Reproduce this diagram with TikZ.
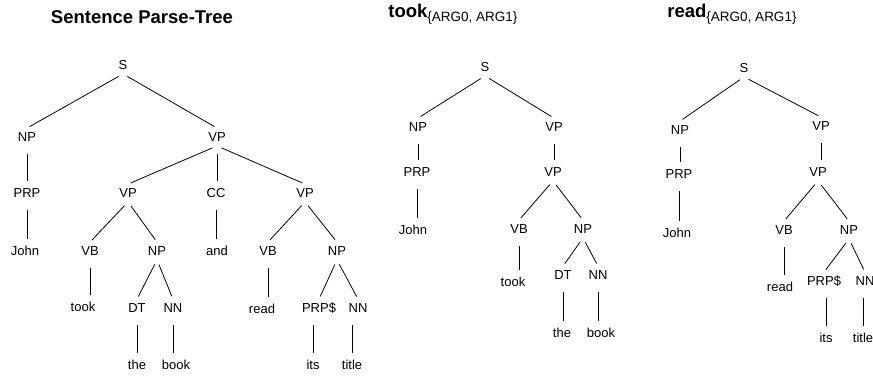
\documentclass[tikz,border=0pt]{standalone}
\usepackage{fontspec}
\setmainfont{Liberation Sans}
\begin{document}
\begin{tikzpicture}[x=1pt,y=-1pt,line width=0.8pt]
\tikzstyle{every node}+=[inner xsep=2pt,inner ysep=4pt,text height=9pt,text depth=0pt,font=\fontsize{13}{15}\selectfont]
\tikzstyle{branch}=[shorten <=5pt,shorten >=3pt]
\tikzstyle{stem}=[shorten <=8pt,shorten >=3pt]
\tikzstyle{title}=[inner sep=0pt,font=\fontsize{18.5}{20}\selectfont\bfseries]
\useasboundingbox (0,0) rectangle (873,376);
\node [title,anchor=base] (tsent) at (142,23) {Sentence Parse-Tree};
\node [title,anchor=base west] (ttook) at (388,17) {took\raisebox{-4pt}{\fontsize{13.5}{15}\selectfont\mdseries\{ARG0, ARG1\}}};
\node [title,anchor=base west] (tread) at (667,17) {read\raisebox{-4pt}{\fontsize{13.5}{15}\selectfont\mdseries\{ARG0, ARG1\}}};
\node (aS) at (123,65) {S};
\node (aNP) at (27,137) {NP};
\node (aVP) at (217,137) {VP};
\node (aPRP) at (27,193) {PRP};
\node (aVP1) at (128,193) {VP};
\node (aCC) at (216,193) {CC};
\node (aVP2) at (305,193) {VP};
\node (aJohn) at (25,251) {John};
\node (aVB1) at (90,251) {VB};
\node (aNP1) at (157,251) {NP};
\node (aand) at (217,251) {and};
\node (aVB2) at (268,251) {VB};
\node (aNP2) at (337,251) {NP};
\node (atook) at (83,307) {took};
\node (aDT) at (137,308) {DT};
\node (aNN1) at (173,308) {NN};
\node (aread) at (262,309) {read};
\node (aPRPs) at (319,308) {PRP\$};
\node (aNN2) at (358,308) {NN};
\node (athe) at (137,365) {the};
\node (abook) at (176,365) {book};
\node (aits) at (313,365) {its};
\node (atitle) at (352,365) {title};
\draw [branch] (aS.south) -- (aNP.north);
\draw [branch] (aS.south) -- (aVP.north);
\draw [stem] (aNP) -- (aNP |- aPRP.north);
\draw [stem] (aPRP) -- (aPRP |- aJohn.north);
\draw [branch] (aVP.south) -- (aVP1.north);
\draw [stem] (aVP) -- (aVP |- aCC.north);
\draw [branch] (aVP.south) -- (aVP2.north);
\draw [stem] (aCC) -- (aCC |- aand.north);
\draw [branch] (aVP1.south) -- (aVB1.north);
\draw [branch] (aVP1.south) -- (aNP1.north);
\draw [stem] (aVB1) -- (aVB1 |- atook.north);
\draw [branch] (aNP1.south) -- (aDT.north);
\draw [branch] (aNP1.south) -- (aNN1.north);
\draw [stem] (aDT) -- (aDT |- athe.north);
\draw [stem] (aNN1) -- (aNN1 |- abook.north);
\draw [branch] (aVP2.south) -- (aVB2.north);
\draw [branch] (aVP2.south) -- (aNP2.north);
\draw [stem] (aVB2) -- (aVB2 |- aread.north);
\draw [branch] (aNP2.south) -- (aPRPs.north);
\draw [branch] (aNP2.south) -- (aNN2.north);
\draw [stem] (aPRPs.south -| aits) -- (aits);
\draw [stem] (aNN2.south -| atitle) -- (atitle);
\node (bS) at (485,67) {S};
\node (bNP) at (418,127) {NP};
\node (bVP) at (554,127) {VP};
\node (bPRP) at (417,172) {PRP};
\node (bVP1) at (553,172) {VP};
\node (bJohn) at (413,230) {John};
\node (bVB) at (519,229) {VB};
\node (bNP1) at (583,229) {NP};
\node (btook) at (513,282) {took};
\node (bDT) at (563,275) {DT};
\node (bNN) at (598,275) {NN};
\node (bthe) at (562,333) {the};
\node (bbook) at (601,333) {book};
\draw [branch] (bS.south) -- (bNP.north);
\draw [branch] (bS.south) -- (bVP.north);
\draw [stem] (bNP) -- (bNP |- bPRP.north);
\draw [stem] (bPRP) -- (bPRP |- bJohn.north);
\draw [stem] (bVP) -- (bVP |- bVP1.north);
\draw [branch] (bVP1.south) -- (bVB.north);
\draw [branch] (bVP1.south) -- (bNP1.north);
\draw [stem] (bVB) -- (bVB |- btook.north);
\draw [branch] (bNP1.south) -- (bDT.north);
\draw [branch] (bNP1.south) -- (bNN.north);
\draw [stem] (bDT) -- (bDT |- bthe.north);
\draw [stem] (bNN) -- (bNN |- bbook.north);
\node (cS) at (744,68) {S};
\node (cNP) at (680,130) {NP};
\node (cVP) at (821,126) {VP};
\node (cPRP) at (679,174) {PRP};
\node (cVP1) at (818,172) {VP};
\node (cJohn) at (677,233) {John};
\node (cVB) at (784,230) {VB};
\node (cNP1) at (849,230) {NP};
\node (cread) at (780,287) {read};
\node (cPRPs) at (824,281) {PRP\$};
\node (cNN) at (865,281) {NN};
\node (cits) at (826,338) {its};
\node (ctitle) at (863,338) {title};
\draw [branch] (cS.south) -- (cNP.north);
\draw [branch] (cS.south) -- (cVP.north);
\draw [stem] (cNP) -- (cNP |- cPRP.north);
\draw [stem] (cPRP) -- (cPRP |- cJohn.north);
\draw [stem] (cVP) -- (cVP |- cVP1.north);
\draw [branch] (cVP1.south) -- (cVB.north);
\draw [branch] (cVP1.south) -- (cNP1.north);
\draw [stem] (cVB) -- (cVB |- cread.north);
\draw [branch] (cNP1.south) -- (cPRPs.north);
\draw [branch] (cNP1.south) -- (cNN.north);
\draw [stem] (cPRPs.south -| cits) -- (cits);
\draw [stem] (cNN.south -| ctitle) -- (ctitle);
\end{tikzpicture}
\end{document}
